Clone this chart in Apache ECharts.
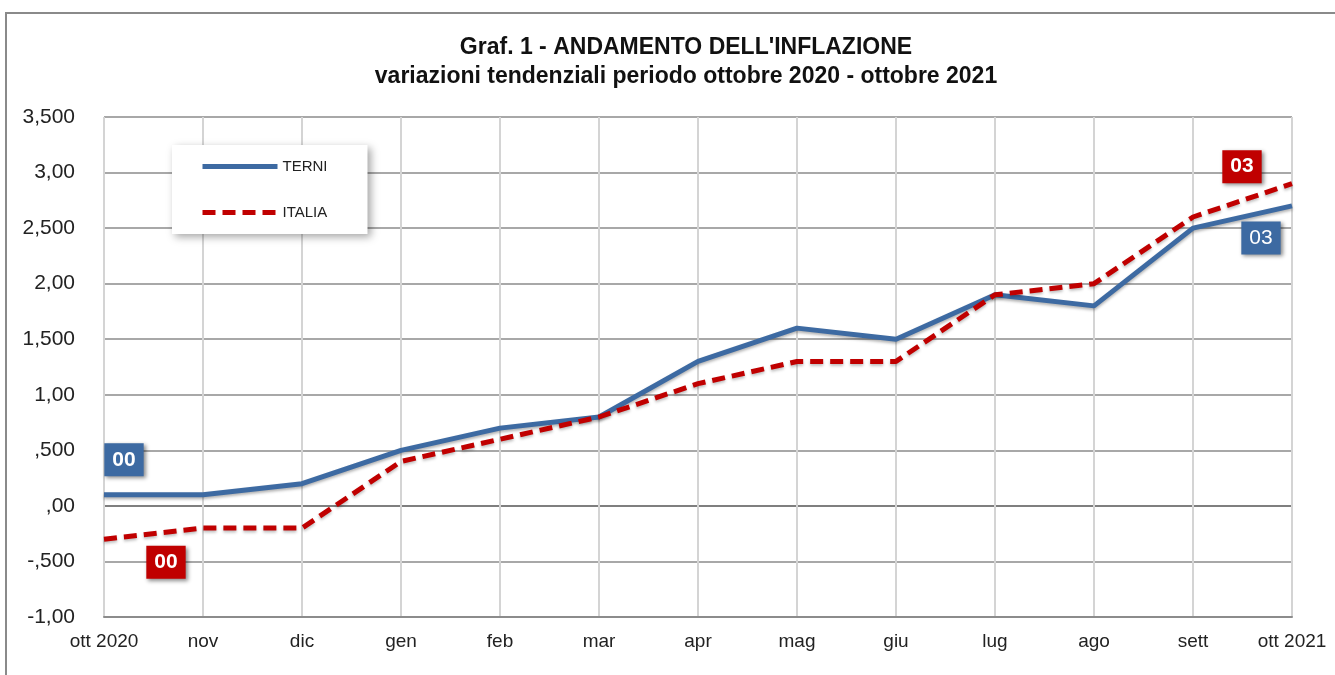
<!DOCTYPE html>
<html>
<head>
<meta charset="utf-8">
<script src="https://cdn.jsdelivr.net/npm/echarts@6/dist/echarts.min.js"></script>
<style>
  html, body { margin: 0; padding: 0; background: #fff; }
  #chart { width: 1335px; height: 675px; }
</style>
</head>
<body>
<div id="chart"></div>
<script>
// dati del grafico
const months = ['ott 2020', 'nov', 'dic', 'gen', 'feb', 'mar', 'apr', 'mag', 'giu', 'lug', 'ago', 'sett', 'ott 2021'];
const terni = [0.1, 0.1, 0.2, 0.5, 0.7, 0.8, 1.3, 1.6, 1.5, 1.9, 1.8, 2.5, 2.7];
const italia = [-0.3, -0.2, -0.2, 0.4, 0.6, 0.8, 1.1, 1.3, 1.3, 1.9, 2.0, 2.6, 2.9];
// etichette asse y, da -1 a 3.5
const yTicks = [-1, -0.5, 0, 0.5, 1, 1.5, 2, 2.5, 3, 3.5];
const yTickLabels = ['-1,00', '-,500', ',00', ',500', '1,00', '1,500', '2,00', '2,500', '3,00', '3,500'];
// testo dei riquadri sul primo e ultimo punto
const firstTag = '00';
const lastTag = '03';

const BLUE = '#3d6aa2';
const RED = '#c00000';
const font = '"Liberation Sans", Arial, sans-serif';

// riquadro etichetta sui punti estremi
function boxPoint (color, series, idx, text, offset, bold) {
  return {
    coord: [idx, series[idx]],
    symbol: 'rect',
    symbolSize: 1,
    itemStyle: { color: 'rgba(0,0,0,0)' },
    label: {
      show: true,
      position: 'inside',
      offset: offset,
      formatter: text,
      color: '#fff',
      fontSize: 21,
      fontWeight: bold ? 'bold' : 'normal',
      fontFamily: font,
      backgroundColor: color,
      padding: [7, 8, 5, 8],
      shadowColor: 'rgba(0,0,0,0.45)',
      shadowBlur: 4,
      shadowOffsetX: 2,
      shadowOffsetY: 2
    }
  };
}

const chart = echarts.init(document.getElementById('chart'));
const option = {
  animation: false,
  backgroundColor: '#fff',
  title: {
    text: "Graf. 1 - ANDAMENTO DELL'INFLAZIONE\nvariazioni tendenziali periodo ottobre 2020 - ottobre 2021",
    left: 686,
    top: 33,
    textAlign: 'center',
    padding: 0,
    textStyle: {
      fontFamily: font,
      fontSize: 23,
      fontWeight: 'bold',
      color: '#111',
      lineHeight: 29,
      align: 'center'
    }
  },
  legend: {
    orient: 'vertical',
    left: 172,
    top: 145,
    padding: [14, 40, 14, 28],
    itemWidth: 75,
    itemHeight: 14,
    itemGap: 31,
    backgroundColor: '#fff',
    shadowColor: 'rgba(0,0,0,0.35)',
    shadowBlur: 8,
    shadowOffsetX: 3,
    shadowOffsetY: 3,
    lineStyle: { width: 5 },
    itemStyle: { opacity: 0 },
    textStyle: {
      fontFamily: font,
      fontSize: 15,
      color: '#222'
    },
    data: ['TERNI', 'ITALIA']
  },
  grid: {
    left: 104,
    right: 43,
    top: 117,
    bottom: 58
  },
  xAxis: {
    type: 'category',
    data: months,
    boundaryGap: false,
    axisLine: { onZero: false, lineStyle: { color: '#8c8c8c', width: 2 } },
    axisTick: { show: false },
    axisLabel: {
      margin: 15,
      fontFamily: font,
      fontSize: 19,
      color: '#222'
    },
    splitLine: { show: true, lineStyle: { color: '#d4d4d4', width: 2 } }
  },
  yAxis: {
    type: 'value',
    min: -1,
    max: 3.5,
    interval: 0.5,
    axisLine: { show: false },
    axisTick: { show: false },
    axisLabel: {
      margin: 29,
      fontFamily: font,
      fontSize: 21,
      color: '#222',
      formatter: function (value) {
        const idx = yTicks.findIndex(t => Math.abs(t - value) < 1e-6);
        return idx >= 0 ? yTickLabels[idx] : '';
      }
    },
    splitLine: {
      lineStyle: {
        color: ['#8c8c8c', '#a8a8a8', '#7f7f7f', '#a8a8a8', '#a8a8a8', '#a8a8a8', '#a8a8a8', '#a8a8a8', '#a8a8a8', '#a8a8a8'],
        width: 2
      }
    }
  },
  graphic: [{
    type: 'rect',
    shape: { x: 6, y: 13, width: 1400, height: 700 },
    style: { fill: 'none', stroke: '#8a8a8a', lineWidth: 2 },
    silent: true
  }],
  series: [
    {
      name: 'TERNI',
      type: 'line',
      data: terni,
      symbol: 'none',
      z: 3,
      lineStyle: {
        color: BLUE,
        width: 5,
        shadowColor: 'rgba(0,0,0,0.3)',
        shadowBlur: 3,
        shadowOffsetY: 2
      },
      itemStyle: { color: BLUE },
      markPoint: {
        silent: true,
        z: 6,
        data: [
          boxPoint(BLUE, terni, 0, firstTag, [20, -35], true),
          boxPoint(BLUE, terni, terni.length - 1, lastTag, [-31, 32], false)
        ]
      }
    },
    {
      name: 'ITALIA',
      type: 'line',
      data: italia,
      symbol: 'none',
      z: 4,
      lineStyle: {
        color: RED,
        width: 5,
        type: [13, 7],
        shadowColor: 'rgba(0,0,0,0.25)',
        shadowBlur: 3,
        shadowOffsetY: 2
      },
      itemStyle: { color: RED },
      markPoint: {
        silent: true,
        z: 6,
        data: [
          boxPoint(RED, italia, 0, firstTag, [62, 23], true),
          boxPoint(RED, italia, italia.length - 1, lastTag, [-50, -17], true)
        ]
      }
    }
  ]
};
chart.setOption(option);
</script>
</body>
</html>
